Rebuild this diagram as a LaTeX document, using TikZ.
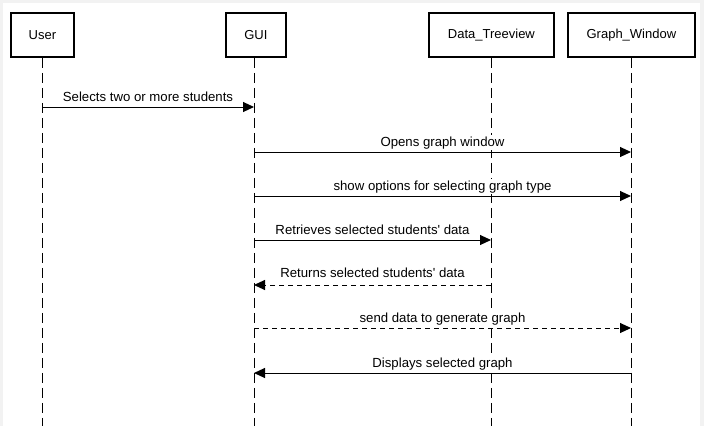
\documentclass[tikz,border=0pt]{standalone}
\usepackage{fontspec}
\newfontfamily\lib{Liberation Sans}
\usetikzlibrary{arrows.meta}
\begin{document}
\begin{tikzpicture}[x=1pt,y=-1pt,
  actor/.style={draw,line width=1.8pt,minimum height=44pt,inner sep=0pt,font=\lib\fontsize{13}{15}\selectfont,anchor=north west},
  life/.style={line width=1pt,dash pattern=on 10pt off 5pt},
  msg/.style={line width=1pt,-{Triangle[length=11pt,width=10pt]}},
  ret/.style={msg,dash pattern=on 5pt off 4pt},
  lbl/.style={font=\lib\fontsize{13.2}{15}\selectfont,inner sep=1pt,fill=white,anchor=base}]
\fill[black!5] (0,0) rectangle (704,426);
\fill[white] (3,3) rectangle (700,426);
\useasboundingbox (0,0) rectangle (704,426);
\node[actor,minimum width=63pt] (user) at (10,12) {User};
\node[actor,minimum width=60pt] (gui) at (225,12) {GUI};
\node[actor,minimum width=125pt] (dt) at (428,12) {Data\_Treeview};
\node[actor,minimum width=127pt] (gw) at (567,12) {Graph\_Window};
\coordinate (ue) at (42,426);
\coordinate (ge) at (254,426);
\coordinate (de) at (491,426);
\coordinate (we) at (631,426);
\draw[life] (user.south -| ue) -- (ue);
\draw[life] (gui.south -| ge) -- (ge);
\draw[life] (dt.south -| de) -- (de);
\draw[life] (gw.south -| we) -- (we);
% messages
\coordinate (u1) at (42,107); \coordinate (g1) at (254,107);
\draw[msg] (u1) -- (g1);
\node[lbl] (l1) at (148,101) {Selects two or more students};
\coordinate (g2) at (254,152); \coordinate (w2) at (631,152);
\draw[msg] (g2) -- (w2);
\node[lbl] (l2) at (442.5,146) {Opens graph window};
\coordinate (g3) at (254,196); \coordinate (w3) at (631,196);
\draw[msg] (g3) -- (w3);
\node[lbl] (l3) at (442.5,190) {show options for selecting graph type};
\coordinate (g4) at (254,240); \coordinate (d4) at (491,240);
\draw[msg] (g4) -- (d4);
\node[lbl] (l4) at (372.5,234) {Retrieves selected students' data};
\coordinate (d5) at (491,285); \coordinate (g5) at (254,285);
\draw[ret] (d5) -- (g5);
\node[lbl] (l5) at (372.5,277) {Returns selected students' data};
\coordinate (g6) at (254,328); \coordinate (w6) at (631,328);
\draw[ret] (g6) -- (w6);
\node[lbl] (l6) at (442.5,322) {send data to generate graph};
\coordinate (w7) at (631,373); \coordinate (g7) at (254,373);
\draw[msg] (w7) -- (g7);
\node[lbl] (l7) at (442.5,367) {Displays selected graph};
\end{tikzpicture}
\end{document}
